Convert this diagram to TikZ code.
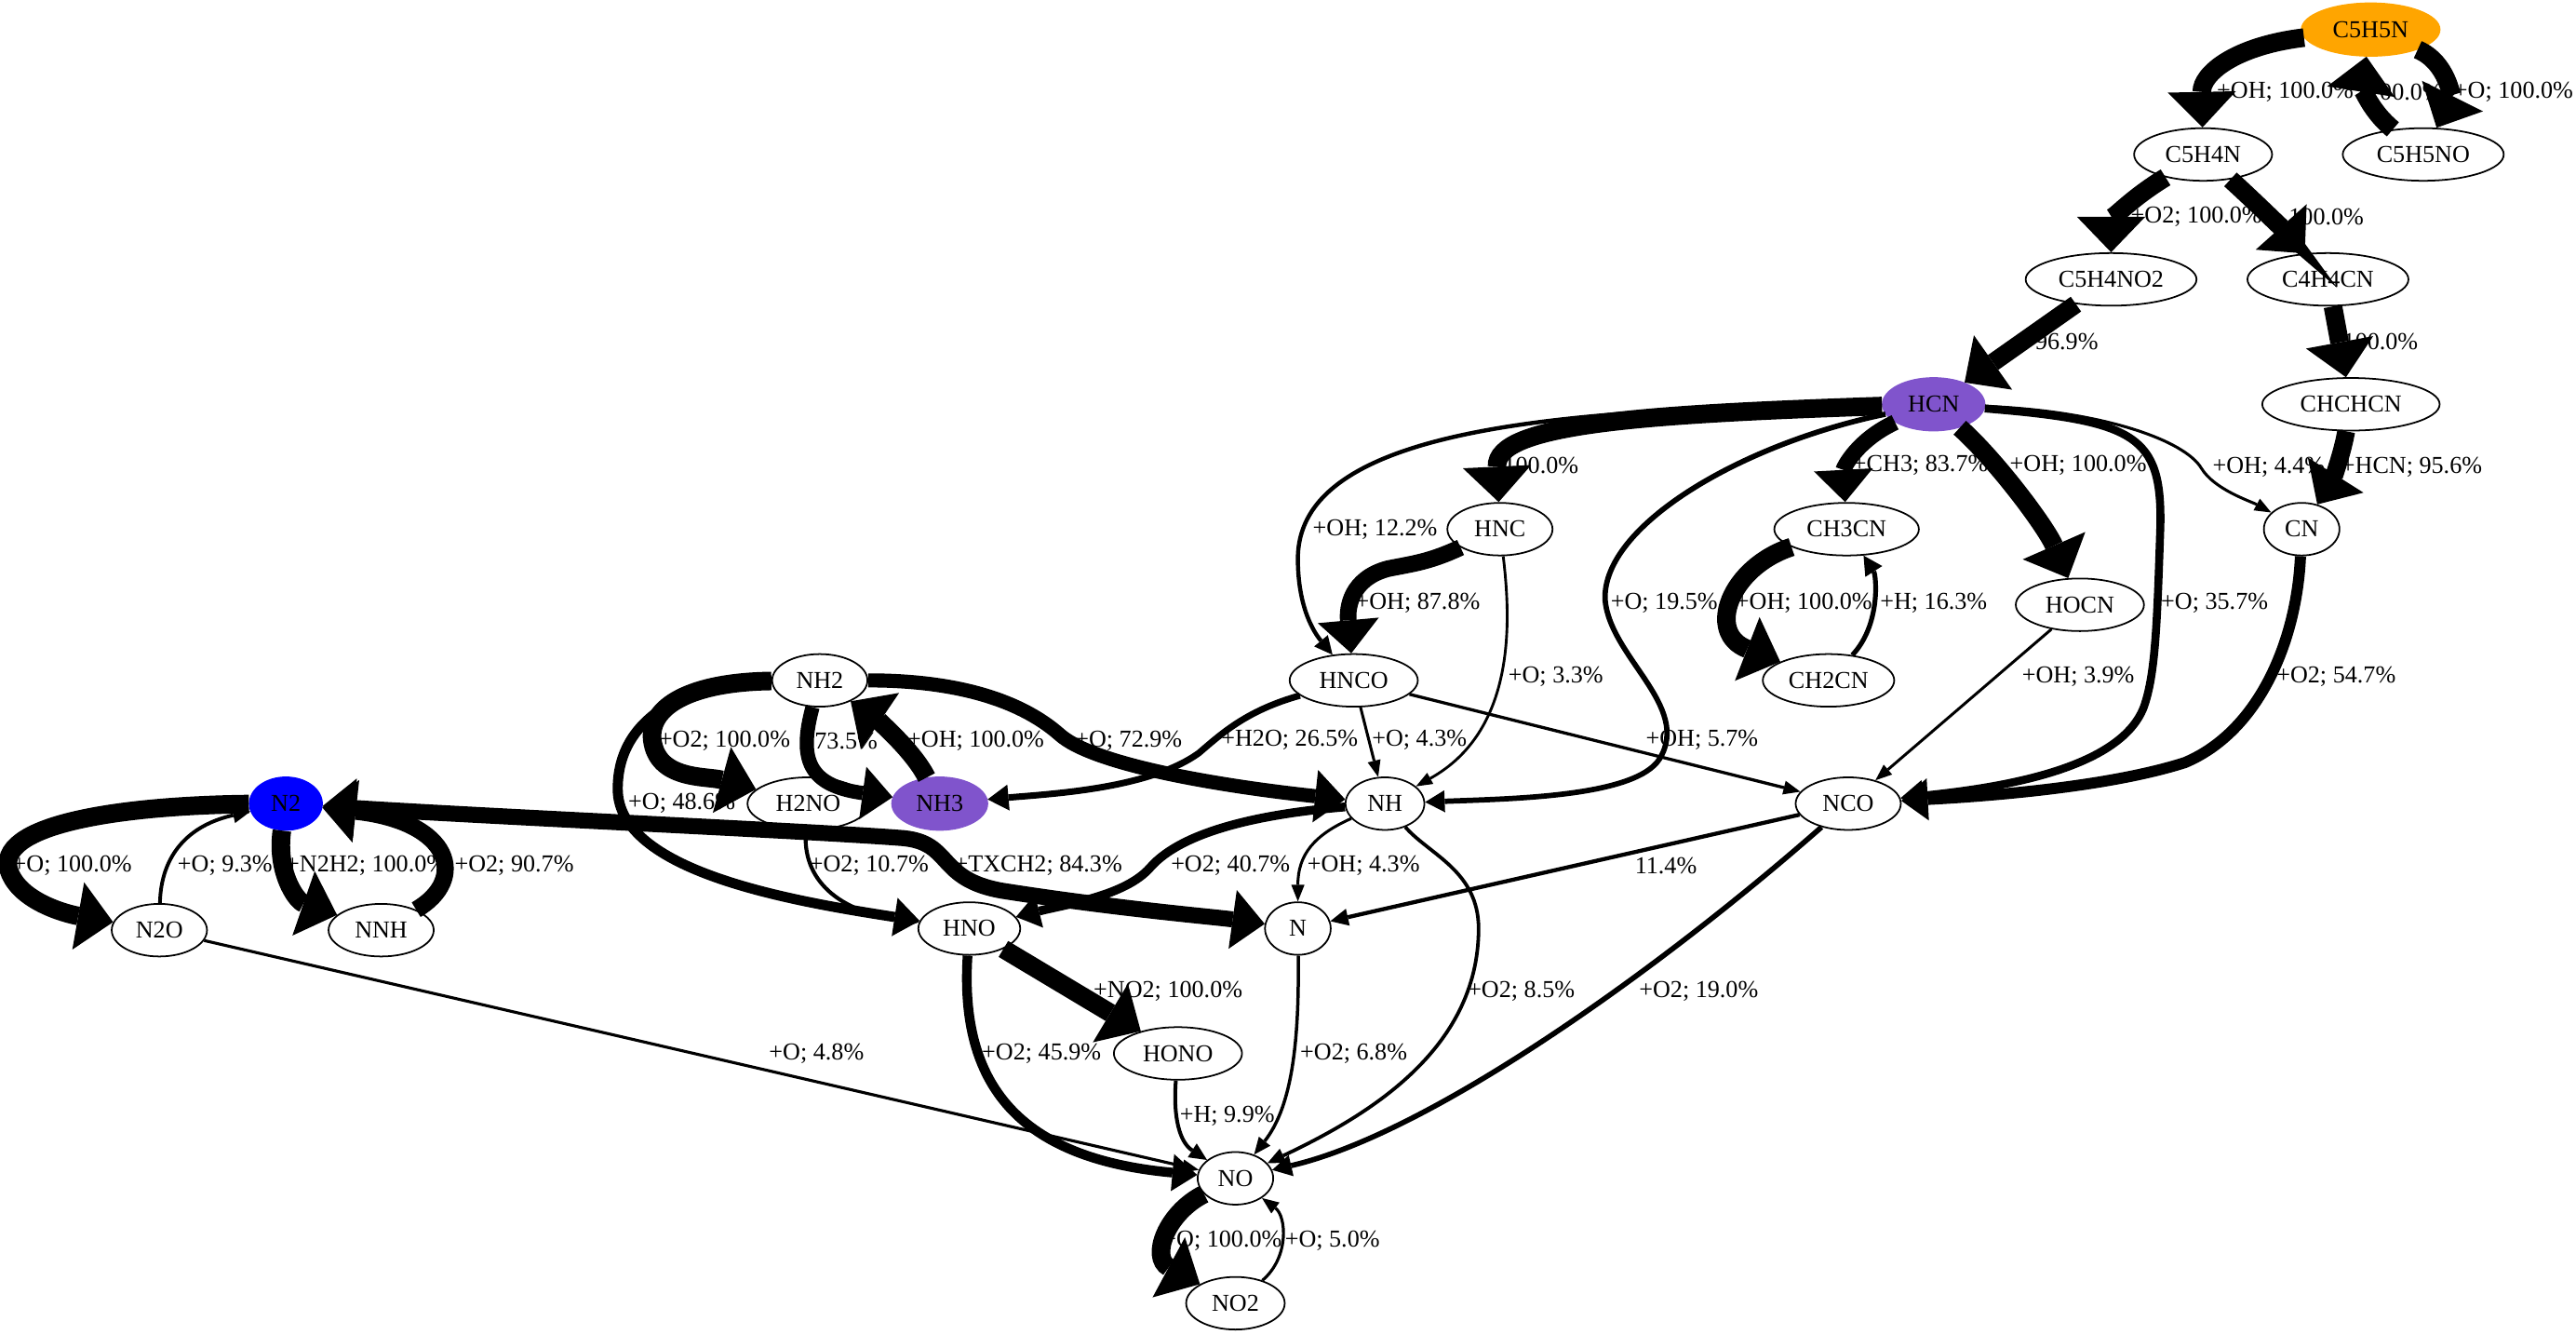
\documentclass[tikz,border=0pt]{standalone}
\usepackage{fontspec}
\setmainfont{Liberation Serif}
\usetikzlibrary{shapes.geometric,arrows.meta}
\definecolor{hcnpurple}{RGB}{128,84,204}
\definecolor{c5orange}{RGB}{255,165,0}
\newcommand\lblfont{\fontsize{7.4pt}{8.6pt}\selectfont}
\tikzset{
 sp/.style={ellipse, draw=black, line width=0.5pt, inner sep=0pt, minimum height=16pt, font=\lblfont},
 lb/.style={inner sep=0pt, font=\lblfont},
 ew/.code={%
  \pgfmathsetmacro\myLW{0.5*(1.3+0.1*#1)}%
  \pgfmathsetmacro\myAL{0.5*(8+1.2*(1.3+0.1*#1))}%
  \pgfmathsetmacro\myAW{0.5*(2+3.5*(1.3+0.1*#1))}%
  \edef\myTmp{\noexpand\tikzset{line width=\myLW pt,-{Triangle[length=\myAL pt,width=\myAW pt,line width=0pt]}}}%
  \myTmp},
 ewb/.code={%
  \pgfmathsetmacro\myLW{0.5*(1.3+0.1*#1)}%
  \pgfmathsetmacro\myAL{0.5*(8+1.2*(1.3+0.1*#1))}%
  \pgfmathsetmacro\myAW{0.5*(2+3.5*(1.3+0.1*#1))}%
  \edef\myTmp{\noexpand\tikzset{line width=\myLW pt,{Triangle[length=\myAL pt,width=\myAW pt,line width=0pt]}-{Triangle[length=\myAL pt,width=\myAW pt,line width=0pt]}}}%
  \myTmp},
}
\begin{document}
\begin{tikzpicture}[x=0.5pt,y=-0.5pt]
\useasboundingbox (0,0) rectangle (1568,812);
% nodes
\node[sp, fill=c5orange, draw=c5orange, minimum width=42pt] (C5H5N) at (1443,18) {C5H5N};
\node[sp, minimum width=42pt] (C5H4N) at (1341,94) {C5H4N};
\node[sp, minimum width=49pt] (C5H5NO) at (1475,94) {C5H5NO};
\node[sp, minimum width=52pt] (C5H4NO2) at (1285,170) {C5H4NO2};
\node[sp, minimum width=49pt] (C4H4CN) at (1417,170) {C4H4CN};
\node[sp, fill=hcnpurple, draw=hcnpurple, minimum width=31pt] (HCN) at (1177,246) {HCN};
\node[sp, minimum width=54pt] (CHCHCN) at (1431,246) {CHCHCN};
\node[sp, minimum width=32pt] (HNC) at (913,322) {HNC};
\node[sp, minimum width=44pt] (CH3CN) at (1124,322) {CH3CN};
\node[sp, minimum width=23pt] (CN) at (1401,322) {CN};
\node[sp, minimum width=39pt] (HOCN) at (1266,368) {HOCN};
\node[sp, minimum width=40pt] (CH2CN) at (1113,414) {CH2CN};
\node[sp, minimum width=39pt] (HNCO) at (824,414) {HNCO};
\node[sp, minimum width=29pt] (NH2) at (499,414) {NH2};
\node[sp, minimum width=37pt] (H2NO) at (492,489) {H2NO};
\node[sp, fill=hcnpurple, draw=hcnpurple, minimum width=29pt] (NH3) at (572,489) {NH3};
\node[sp, minimum width=24pt] (NH) at (843,489) {NH};
\node[sp, minimum width=32pt] (NCO) at (1125,489) {NCO};
\node[sp, fill=blue, draw=blue, minimum width=22pt] (N2) at (174,489) {N2};
\node[sp, minimum width=29pt] (N2O) at (97,566) {N2O};
\node[sp, minimum width=32pt] (NNH) at (232,566) {NNH};
\node[sp, minimum width=31pt] (HNO) at (590,565) {HNO};
\node[sp, minimum width=20pt] (N) at (790,565) {N};
\node[sp, minimum width=39pt] (HONO) at (717,641) {HONO};
\node[sp, minimum width=23pt] (NO) at (752,717) {NO};
\node[sp, minimum width=30pt] (NO2) at (752,793) {NO2};
% edges
\draw[ew=100] (C5H5N) .. controls (1360,28) and (1340,45) .. (C5H4N);
\draw[ew=100] (C5H5NO) .. controls (1440,65) and (1438,50) .. (C5H5N);
\draw[ew=100] (C5H5N) .. controls (1490,38) and (1492,60) .. (C5H5NO);
\draw[ew=100] (C5H4N) .. controls (1295,122) and (1285,135) .. (C5H4NO2);
\draw[ew=100] (C5H4N) .. controls (1375,125) and (1392,142) .. (C4H4CN);
\draw[ew=96.9] (C5H4NO2) -- (HCN);
\draw[ew=100] (C4H4CN) -- (CHCHCN);
\draw[ew=95.6] (CHCHCN) .. controls (1425,280) and (1418,295) .. (CN);
\draw[ew=4.4] (HCN) .. controls (1280,250) and (1330,268) .. (1340,285) .. controls (1348,298) and (1370,305) .. (CN);
\draw[ew=100] (HCN) .. controls (1000,252) and (910,258) .. (HNC);
\draw[ew=12.2] (HCN) .. controls (950,248) and (790,260) .. (790,340) .. controls (790,370) and (800,385) .. (HNCO);
\draw[ew=83.7] (HCN) .. controls (1130,268) and (1122,285) .. (CH3CN);
\draw[ew=100] (HCN) .. controls (1215,280) and (1245,320) .. (HOCN);
\draw[ew=19.5] (HCN) .. controls (1060,270) and (975,320) .. (977,365) .. controls (980,400) and (1030,430) .. (1010,462) .. controls (995,485) and (920,486) .. (NH);
\draw[ew=35.7] (HCN) .. controls (1300,256) and (1316,265) .. (1315,320) .. controls (1313,380) and (1312,410) .. (1305,430) .. controls (1290,470) and (1210,480) .. (NCO);
\draw[ew=87.8] (HNC) .. controls (870,342) and (860,343) .. (845,346) .. controls (822,352) and (820,370) .. (HNCO);
\draw[ew=3.3] (HNC) .. controls (920,380) and (922,445) .. (NH);
\draw[ew=100] (CH3CN) .. controls (1053,345) and (1038,385) .. (CH2CN);
\draw[ew=16.3] (CH2CN) .. controls (1145,380) and (1142,350) .. (CH3CN);
\draw[ew=3.9] (HOCN) -- (NCO);
\draw[ew=54.7] (CN) .. controls (1398,390) and (1375,445) .. (1330,464) .. controls (1280,480) and (1200,485) .. (NCO);
\draw[ew=26.5] (HNCO) .. controls (760,432) and (745,445) .. (730,458) .. controls (700,480) and (640,483) .. (NH3);
\draw[ew=4.3] (HNCO) -- (NH);
\draw[ew=5.7] (HNCO) -- (NCO);
\draw[ew=100] (NH2) .. controls (420,415) and (395,430) .. (397,450) .. controls (400,475) and (430,472) .. (H2NO);
\draw[ew=73.5] (NH2) .. controls (486,462) and (492,478) .. (NH3);
\draw[ew=100] (NH3) .. controls (555,455) and (530,435) .. (NH2);
\draw[ew=72.9] (NH2) .. controls (580,414) and (620,425) .. (645,447) .. controls (665,465) and (740,478) .. (NH);
\draw[ew=48.6] (NH2) .. controls (430,414) and (376,430) .. (376,480) .. controls (376,530) and (480,548) .. (HNO);
\draw[ew=10.7] (H2NO) .. controls (488,535) and (510,555) .. (HNO);
\draw[ewb=84.3] (N2) .. controls (300,497) and (500,506) .. (550,510) .. controls (580,513) and (570,535) .. (610,542) .. controls (680,553) and (740,558) .. (N);
\draw[ew=40.7] (NH) .. controls (770,495) and (720,505) .. (700,528) .. controls (685,545) and (650,550) .. (HNO);
\draw[ew=4.3] (NH) .. controls (800,508) and (790,520) .. (N);
\draw[ew=8.5] (NH) .. controls (870,520) and (900,530) .. (900,565) .. controls (900,640) and (830,680) .. (NO);
\draw[ew=11.4] (NCO) -- (N);
\draw[ew=19] (NCO) .. controls (1010,590) and (870,690) .. (NO);
\draw[ew=100] (N2) .. controls (80,490) and (0,500) .. (5,528) .. controls (10,548) and (40,556) .. (N2O);
\draw[ew=9.3] (N2O) .. controls (98,520) and (115,502) .. (N2);
\draw[ew=100] (N2) .. controls (168,530) and (180,548) .. (NNH);
\draw[ew=90.7] (NNH) .. controls (285,535) and (275,500) .. (N2);
\draw[ew=4.8] (N2O) -- (NO);
\draw[ew=100] (HNO) -- (HONO);
\draw[ew=45.9] (HNO) .. controls (584,660) and (620,705) .. (NO);
\draw[ew=9.9] (HONO) .. controls (714,680) and (718,695) .. (NO);
\draw[ew=6.8] (N) .. controls (791,640) and (785,675) .. (NO);
\draw[ew=100] (NO) .. controls (710,738) and (700,765) .. (NO2);
\draw[ew=5] (NO2) .. controls (785,765) and (783,740) .. (NO);
% labels
\node[lb] (t1) at (1391,56) {+OH; 100.0\%};
\node[lb] (t2) at (1464,56) {100.0\%};
\node[lb] (t3) at (1530,56) {+O; 100.0\%};
\node[lb] (t4) at (1337,132) {+O2; 100.0\%};
\node[lb] (t5) at (1416,132) {100.0\%};
\node[lb] (t6) at (1258,208) {96.9\%};
\node[lb] (t7) at (1449,208) {100.0\%};
\node[lb] (t8) at (938,283) {100.0\%};
\node[lb] (t9) at (1169,283) {+CH3; 83.7\%};
\node[lb] (t10) at (1265,283) {+OH; 100.0\%};
\node[lb] (t11) at (1381,284) {+OH; 4.4\%};
\node[lb] (t12) at (1468,284) {+HCN; 95.6\%};
\node[lb] (t13) at (837,322) {+OH; 12.2\%};
\node[lb] (t14) at (863,367) {+OH; 87.8\%};
\node[lb] (t15) at (1013,367) {+O; 19.5\%};
\node[lb] (t16) at (1098,367) {+OH; 100.0\%};
\node[lb] (t17) at (1177,367) {+H; 16.3\%};
\node[lb] (t18) at (1348,367) {+O; 35.7\%};
\node[lb] (t19) at (947,412) {+O; 3.3\%};
\node[lb] (t20) at (1265,412) {+OH; 3.9\%};
\node[lb] (t21) at (1422,412) {+O2; 54.7\%};
\node[lb] (t22) at (441,451) {+O2; 100.0\%};
\node[lb] (t23) at (515,451) {73.5\%};
\node[lb] (t24) at (594,451) {+OH; 100.0\%};
\node[lb] (t25) at (687,451) {+O; 72.9\%};
\node[lb] (t26) at (785,450) {+H2O; 26.5\%};
\node[lb] (t27) at (864,450) {+O; 4.3\%};
\node[lb] (t28) at (1036,450) {+OH; 5.7\%};
\node[lb] (t29) at (415,489) {+O; 48.6\%};
\node[lb] (t30) at (44,527) {+O; 100.0\%};
\node[lb] (t31) at (137,527) {+O; 9.3\%};
\node[lb] (t32) at (223,527) {+N2H2; 100.0\%};
\node[lb] (t33) at (313,527) {+O2; 90.7\%};
\node[lb] (t34) at (529,527) {+O2; 10.7\%};
\node[lb] (t35) at (632,527) {+TXCH2; 84.3\%};
\node[lb] (t36) at (749,527) {+O2; 40.7\%};
\node[lb] (t37) at (830,527) {+OH; 4.3\%};
\node[lb] (t38) at (1014,527) {11.4\%};
\node[lb] (t39) at (711,603) {+NO2; 100.0\%};
\node[lb] (t40) at (926,603) {+O2; 8.5\%};
\node[lb] (t41) at (1034,603) {+O2; 19.0\%};
\node[lb] (t42) at (497,641) {+O; 4.8\%};
\node[lb] (t43) at (634,641) {+O2; 45.9\%};
\node[lb] (t44) at (824,641) {+O2; 6.8\%};
\node[lb] (t45) at (747,679) {+H; 9.9\%};
\node[lb] (t46) at (744,755) {+O; 100.0\%};
\node[lb] (t47) at (811,755) {+O; 5.0\%};
\end{tikzpicture}
\end{document}
